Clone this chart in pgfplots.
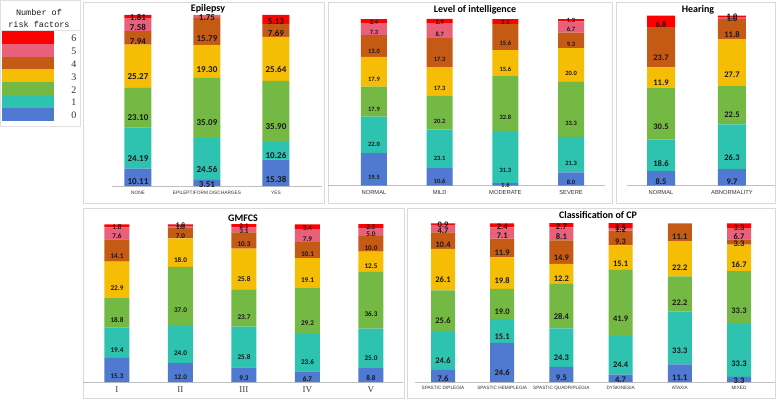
\documentclass[border=0pt]{standalone}
\usepackage{fontspec}
\setmainfont{Carlito}
\newfontfamily\ticksf{Liberation Sans}
\newfontfamily\serifnum{Liberation Serif}
\newfontfamily\monof{Liberation Mono}
\usepackage{pgfplots}
\usepackage{pgfplotstable}
\pgfplotsset{compat=1.18}
\definecolor{c0}{HTML}{5079D2}
\definecolor{c1}{HTML}{2EC2B0}
\definecolor{c2}{HTML}{74B944}
\definecolor{c3}{HTML}{F6BD05}
\definecolor{c4}{HTML}{C45A14}
\definecolor{c5}{HTML}{E8607A}
\definecolor{c6}{HTML}{FF0000}
\definecolor{frame}{HTML}{D9D9D9}
\definecolor{axline}{HTML}{BFBFBF}

\pgfplotstableread{
x v0 v1 v2 v3 v4 v5 v6
0 10.11 24.19 23.10 25.27 7.94 7.58 1.81
1 3.51 24.56 35.09 19.30 15.79 1.75 0
2 15.38 10.26 35.90 25.64 7.69 0 5.13
}\epi
\pgfplotstableread{
x v0 v1 v2 v3 v4 v5 v6
0 19.5 22.0 17.9 17.9 13.0 7.3 2.4
1 10.6 23.1 20.2 17.3 17.3 8.7 2.9
2 1.6 31.3 32.8 15.6 15.6 0 3.1
3 8.0 21.3 33.3 20.0 9.3 6.7 1.3
}\intel
\pgfplotstableread{
x v0 v1 v2 v3 v4 v5 v6
0 8.5 18.6 30.5 11.9 23.7 0 6.8
1 9.7 26.3 22.5 27.7 11.8 1.0 1.0
}\hear
\pgfplotstableread{
x v0 v1 v2 v3 v4 v5 v6
0 15.3 19.4 18.8 22.9 14.1 7.6 1.8
1 12.0 24.0 37.0 18.0 7.0 1.0 1.0
2 9.3 25.8 23.7 25.8 10.3 3.1 2.1
3 6.7 23.6 29.2 19.1 10.1 7.9 3.4
4 8.8 25.0 36.3 12.5 10.0 5.0 2.5
}\gmfcs
\pgfplotstableread{
x v0 v1 v2 v3 v4 v5 v6
0 7.6 24.6 25.6 26.1 10.4 4.7 0.9
1 24.6 15.1 19.0 19.8 11.9 7.1 2.4
2 9.5 24.3 28.4 12.2 14.9 8.1 2.7
3 4.7 24.4 41.9 15.1 9.3 1.2 3.5
4 11.1 33.3 22.2 22.2 11.1 0 0
5 3.3 33.3 33.3 16.7 3.3 6.7 3.3
}\cp

\newcommand\sevenbars[1]{%
 \addplot[fill=c0,draw=none] table[x=x,y=v0,meta=v0]{#1};
 \addplot[fill=c1,draw=none] table[x=x,y=v1,meta=v1]{#1};
 \addplot[fill=c2,draw=none] table[x=x,y=v2,meta=v2]{#1};
 \addplot[fill=c3,draw=none] table[x=x,y=v3,meta=v3]{#1};
 \addplot[fill=c4,draw=none] table[x=x,y=v4,meta=v4]{#1};
 \addplot[fill=c5,draw=none] table[x=x,y=v5,meta=v5]{#1};
 \addplot[fill=c6,draw=none] table[x=x,y=v6,meta=v6]{#1};
}

\pgfplotsset{
 panel/.style n args={2}{% #1 = label font, #2 = quarter unit length (shift applied twice)
  scale only axis, anchor=south west, ymin=0, ymax=100,
  ybar stacked, clip=false, enlargelimits=false,
  axis x line=bottom, axis y line=none,
  x axis line style={draw=axline, line width=1pt, -},
  major tick length=0pt, xtick style={draw=none}, ytick=\empty,
  point meta=explicit symbolic,
  nodes near coords={\ifdim\pgfplotspointmeta pt>0pt\relax\pgfplotspointmeta\fi},
  every node near coord/.append style={font=#1, text=black!90, anchor=center, inner sep=0pt,
     yshift={-\pgfplotspointmeta*#2}},
 }
}

\begin{document}
\begin{tikzpicture}
\path[use as bounding box, fill=white] (0pt,0pt) rectangle (777pt,400pt);
% panel frames
\draw[frame, line width=0.8pt] (83pt,398pt) rectangle (324pt,197pt);
\draw[frame, line width=0.8pt] (328pt,398pt) rectangle (612pt,197pt);
\draw[frame, line width=0.8pt] (616pt,398pt) rectangle (775pt,197pt);
\draw[frame, line width=0.8pt] (83pt,192pt) rectangle (404pt,2pt);
\draw[frame, line width=0.8pt] (407pt,192pt) rectangle (775pt,2pt);
% legend frame
\draw[black!12, line width=0.6pt] (0.5pt,399.5pt) rectangle (80pt,274pt);
\draw[black!12, line width=0.6pt] (0.5pt,370pt) -- (80pt,370pt);
\node[font=\monof\fontsize{8.5}{11.5}\selectfont, align=center, text=black!90] at (39pt,381.7pt) {Number of\\risk factors};

% titles
\node[font=\bfseries\fontsize{10}{12}\selectfont] at (208pt,391pt) {Epilepsy};
\node[font=\bfseries\fontsize{10}{12}\selectfont] at (475pt,390pt) {Level of intelligence};
\node[font=\bfseries\fontsize{10}{12}\selectfont] at (698pt,390pt) {Hearing};
\node[font=\bfseries\fontsize{10}{12}\selectfont] at (243pt,182pt) {GMFCS};
\node[font=\bfseries\fontsize{10}{12}\selectfont] at (598pt,185pt) {Classification of CP};

% legend
\begin{axis}[at={(2pt,369pt)}, anchor=south west, hide axis, scale only axis,
  width=10pt, height=10pt, xmin=0, xmax=1, ymin=0, ymax=1,
  legend image code/.code={\path[#1,draw=none] (0pt,-4.5pt) rectangle (52pt,8.3pt); \path[draw=none,fill=none] (0pt,2pt) -- (69.5pt,2pt);},
  legend style={at={(0,0)}, anchor=north west, draw=none, fill=none, inner sep=0pt, outer sep=0pt,
     row sep=0pt, column sep=0pt, font=\serifnum\fontsize{10}{10}\selectfont,
     nodes={inner sep=0pt, text=black!80}},
  legend cell align=left]
\addlegendimage{fill=c6}\addlegendentry{6}
\addlegendimage{fill=c5}\addlegendentry{5}
\addlegendimage{fill=c4}\addlegendentry{4}
\addlegendimage{fill=c3}\addlegendentry{3}
\addlegendimage{fill=c2}\addlegendentry{2}
\addlegendimage{fill=c1}\addlegendentry{1}
\addlegendimage{fill=c0}\addlegendentry{0}
\end{axis}

% Epilepsy
\begin{axis}[panel={\bfseries\fontsize{9}{9}\selectfont}{0.4275pt},
  at={(112pt,214pt)}, width=210pt, height=171pt, xmin=-0.3768, xmax=2.667,
  bar width=27pt, xtick={0,1,2}, xticklabels={NONE,EPILEPTIFORM DISCHARGES,YES},
  xticklabel style={font=\ticksf\fontsize{4.8}{5}\selectfont, text=black!80, yshift=-1.5pt}]
\sevenbars{\epi}
\end{axis}

% Intelligence
\begin{axis}[panel={\bfseries\fontsize{6.5}{6.5}\selectfont}{0.4168pt},
  at={(328pt,214.3pt)}, width=277pt, height=166.7pt, xmin=-0.70, xmax=3.516,
  bar width=26pt, xtick={0,1,2,3}, xticklabels={NORMAL,MILD,MODERATE,SEVERE},
  xticklabel style={font=\ticksf\fontsize{5.8}{6}\selectfont, text=black!80, yshift=-1pt}]
\sevenbars{\intel}
\end{axis}

% Hearing
\begin{axis}[panel={\bfseries\fontsize{8.5}{8.5}\selectfont}{0.4245pt},
  at={(627pt,214.5pt)}, width=148pt, height=169.8pt, xmin=-0.479, xmax=1.606,
  bar width=28pt, xtick={0,1}, xticklabels={NORMAL,ABNORMALITY},
  xticklabel style={font=\ticksf\fontsize{5.8}{6}\selectfont, text=black!80, yshift=-1pt}]
\sevenbars{\hear}
\end{axis}

% GMFCS
\begin{axis}[panel={\bfseries\fontsize{7.2}{7.2}\selectfont}{0.3943pt},
  at={(83pt,18pt)}, width=320pt, height=157.7pt, xmin=-0.535, xmax=4.504,
  bar width=25pt, xtick={0,1,2,3,4}, xticklabels={I,II,III,IV,V},
  xticklabel style={font=\serifnum\fontsize{9}{9}\selectfont, text=black!75, yshift=-1pt}]
\sevenbars{\gmfcs}
\end{axis}

% CP
\begin{axis}[panel={\bfseries\fontsize{8.5}{8.5}\selectfont}{0.3968pt},
  at={(415pt,18pt)}, width=360pt, height=158.7pt, xmin=-0.473, xmax=5.608,
  bar width=24pt, xtick={0,1,2,3,4,5},
  xticklabels={SPASTIC DIPLEGIA,SPASTIC HEMIPLEGIA,SPASTIC QUADRIPLEGIA,DYSKINESIA,ATAXIA,MIXED},
  xticklabel style={font=\ticksf\fontsize{4.7}{5}\selectfont, text=black!80, yshift=-0.5pt}]
\sevenbars{\cp}
\end{axis}
\end{tikzpicture}
\end{document}
